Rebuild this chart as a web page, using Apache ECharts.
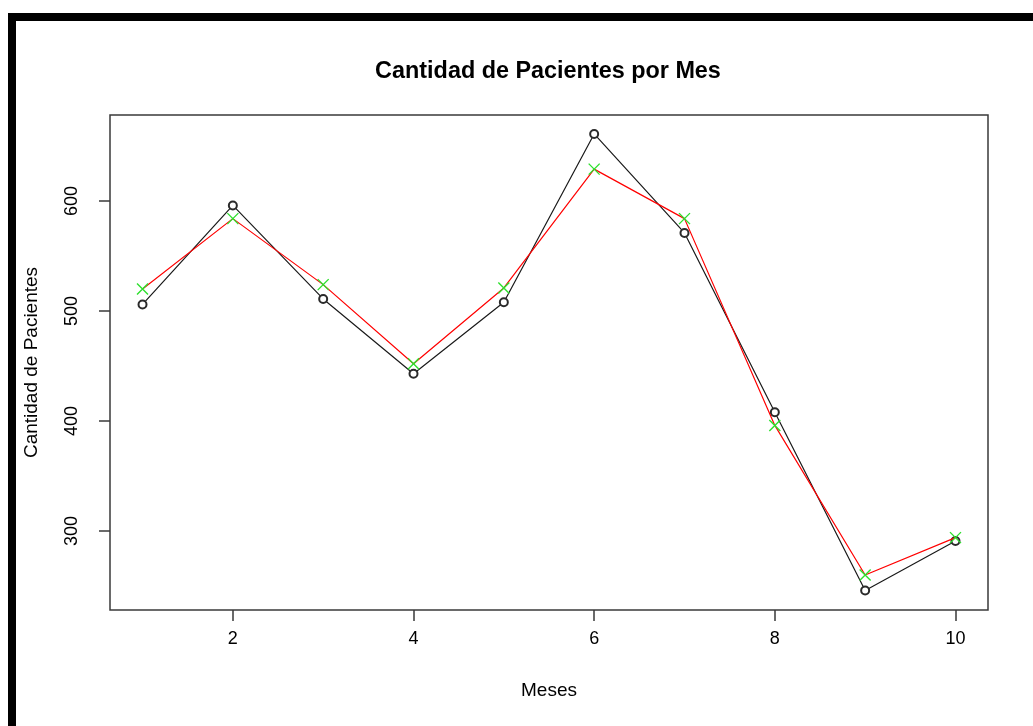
<!DOCTYPE html>
<html>
<head>
<meta charset="utf-8">
<script src="https://cdn.jsdelivr.net/npm/echarts@6/dist/echarts.min.js"></script>
<style>
  html, body { margin: 0; padding: 0; background: #fff; }
  #chart { width: 1033px; height: 726px; }
</style>
</head>
<body>
<div id="chart"></div>
<script>
// Months 1..10 and the two patient-count series
const meses = [1, 2, 3, 4, 5, 6, 7, 8, 9, 10];
const pacientes = [506, 596, 511, 443, 508, 661, 571, 408, 246, 291];
const ajustado = [520, 584, 524, 452, 521, 629, 584, 396, 260, 294];
const xTicks = [2, 4, 6, 8, 10];
const yTicks = [300, 400, 500, 600];

const FONT = '"Liberation Sans", Arial, sans-serif';

const chart = echarts.init(document.getElementById('chart'), null, { renderer: 'canvas' });

chart.setOption({
  animation: false,
  backgroundColor: '#ffffff',
  title: {
    text: 'Cantidad de Pacientes por Mes',
    left: 543,
    top: 55,
    textAlign: 'center',
    textStyle: { fontFamily: FONT, fontSize: 23.4, fontWeight: 'bold', color: '#000' }
  },
  grid: {
    left: 110, top: 115, width: 878, height: 495,
    show: true, borderColor: '#3a3a3a', borderWidth: 1.5, backgroundColor: 'transparent'
  },
  xAxis: {
    type: 'value',
    min: 0.64, max: 10.36,
    interval: 2,
    name: 'Meses',
    nameLocation: 'middle',
    nameGap: 71,
    nameTextStyle: { fontFamily: FONT, fontSize: 19, color: '#000' },
    axisLine: { show: false },
    splitLine: { show: false },
    axisTick: { show: true, length: 11, inside: false, lineStyle: { color: '#3a3a3a', width: 1.5 },
      customValues: xTicks },
    axisLabel: { fontFamily: FONT, fontSize: 18, color: '#000', margin: 20,
      customValues: xTicks, formatter: v => String(v) }
  },
  yAxis: {
    type: 'value',
    min: 228.2, max: 678.2,
    name: 'Cantidad de Pacientes',
    nameLocation: 'middle',
    nameRotate: 90,
    nameGap: 69,
    nameTextStyle: { fontFamily: FONT, fontSize: 19, color: '#000' },
    axisLine: { show: false },
    splitLine: { show: false },
    axisTick: { show: true, length: 11, inside: false, lineStyle: { color: '#3a3a3a', width: 1.5 },
      customValues: yTicks },
    axisLabel: { fontFamily: FONT, fontSize: 18, color: '#000', rotate: 90, margin: 29,
      customValues: yTicks, formatter: v => String(v) }
  },
  graphic: [
    // heavy frame along the top and left edges
    { type: 'rect', shape: { x: 8, y: 13, width: 1025, height: 8 }, style: { fill: '#000' }, z: 100 },
    { type: 'rect', shape: { x: 8, y: 13, width: 8, height: 713 }, style: { fill: '#000' }, z: 100 }
  ],
  series: [
    {
      type: 'line',
      data: meses.map((m, i) => [m, pacientes[i]]),
      symbol: 'emptyCircle',
      symbolSize: 8,
      lineStyle: { color: '#1a1a1a', width: 1.2 },
      itemStyle: { color: '#2a2a2a', borderColor: '#2a2a2a', borderWidth: 1 },
      z: 2
    },
    {
      type: 'line',
      data: meses.map((m, i) => [m, ajustado[i]]),
      symbol: 'path://M0,0L10,10M10,0L0,10',
      symbolSize: 11,
      lineStyle: { color: '#ff0000', width: 1.2 },
      itemStyle: { color: 'none', borderColor: '#2ee02e', borderWidth: 1.4 },
      z: 3
    }
  ]
});
</script>
</body>
</html>
